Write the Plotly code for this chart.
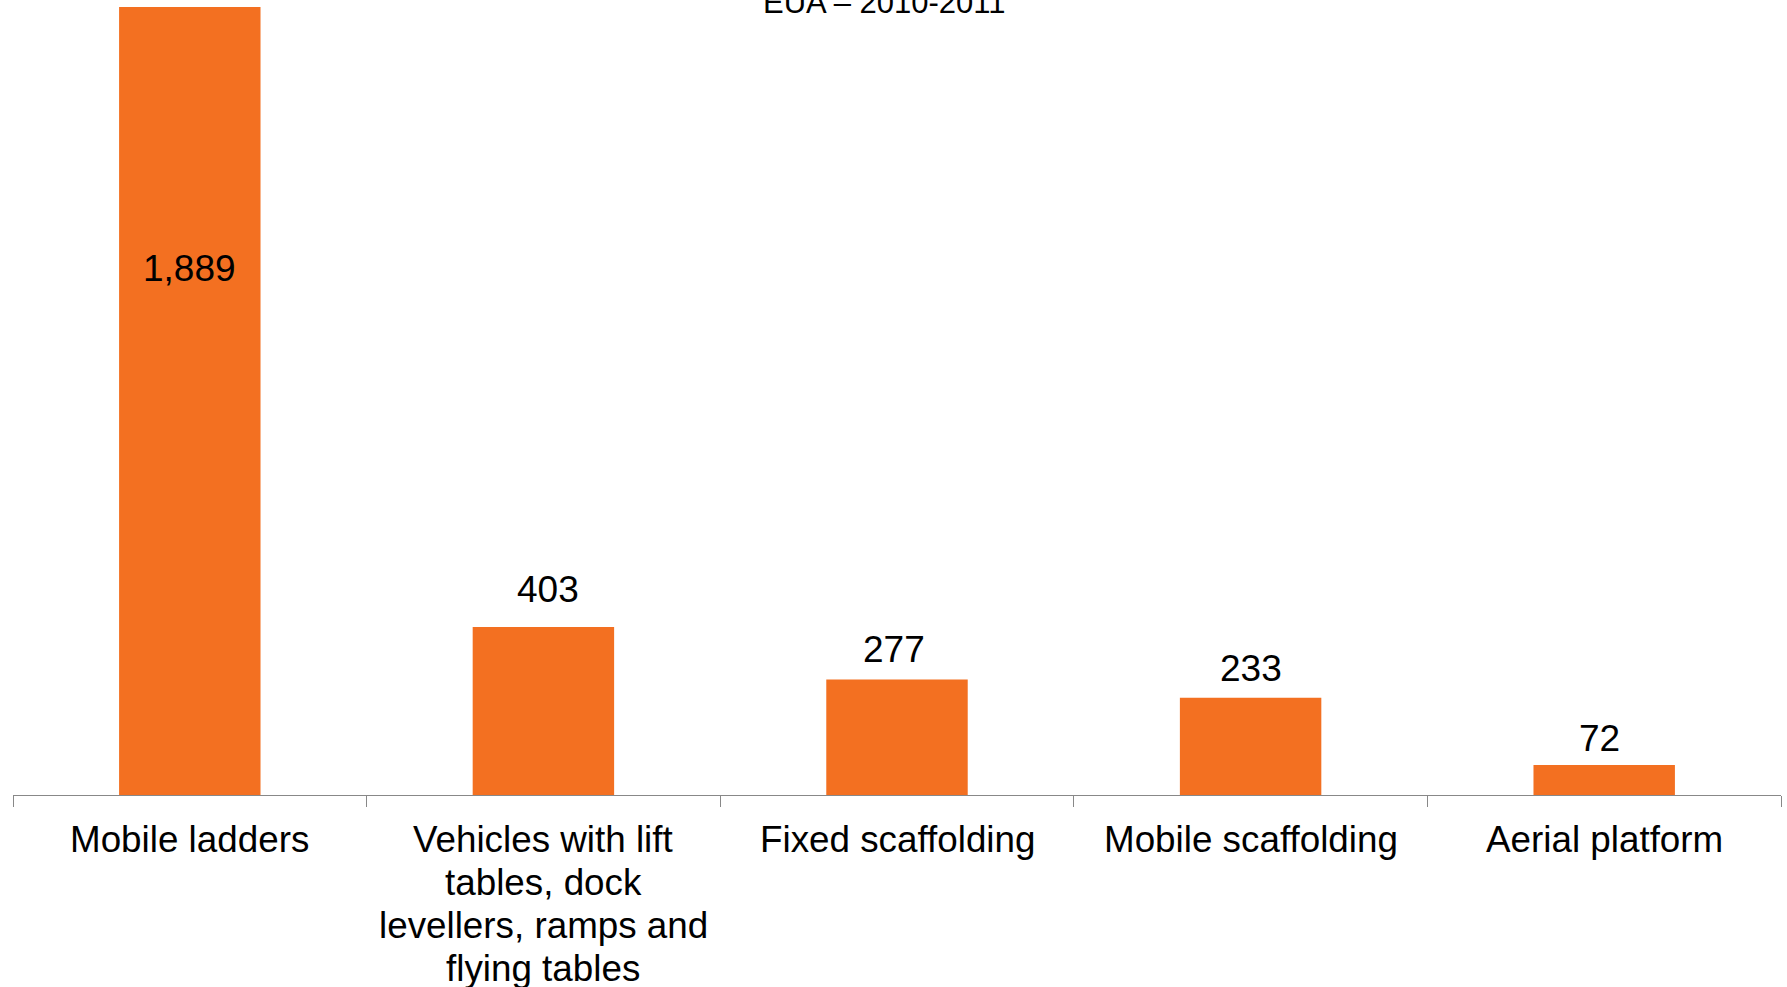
import plotly.graph_objects as go

categories = ["Mobile ladders",
              "Vehicles with lift\ntables, dock\nlevellers, ramps and\nflying tables",
              "Fixed scaffolding",
              "Mobile scaffolding",
              "Aerial platform"]
values = [1889, 403, 277, 233, 72]
value_labels = ["1,889", "403", "277", "233", "72"]
title_text = "EUA – 2010-2011"

# layout-only: pixel offsets of the value labels relative to bar tops
label_shift = [-261, 37, 30, 29, 26]
label_xshift = [0, 5, -3, 0, -5]

FONT = "Liberation Sans, Arial, sans-serif"
ORANGE = "#F37021"

keys = [c.split("\n")[0] for c in categories]

fig = go.Figure(go.Bar(x=keys, y=values, marker_color=ORANGE, marker_line_width=0,
                       width=0.4, hoverinfo="skip"))

ann = []
for k, v, t, s, xs in zip(keys, values, value_labels, label_shift, label_xshift):
    ann.append(dict(x=k, y=v, xref="x", yref="y", text=t, showarrow=False,
                    yanchor="middle", yshift=s, xshift=xs,
                    font=dict(family=FONT, size=37, color="black")))

for k, c in zip(keys, categories):
    for i, line in enumerate(c.split("\n")):
        ann.append(dict(x=k, y=0, xref="x", yref="paper", text=line, showarrow=False,
                        yanchor="middle", yshift=-44 - i * 43.3,
                        font=dict(family=FONT, size=36.8, color="black")))

ann.append(dict(x=(884 - 13) / 1768, y=1, xref="paper", yref="paper", text=title_text,
                showarrow=False, yanchor="middle", yshift=5,
                font=dict(family=FONT, size=31, color="black")))

fig.update_layout(
    width=1787, height=987,
    margin=dict(l=13, r=6, t=7, b=192),
    paper_bgcolor="white", plot_bgcolor="white",
    showlegend=False,
    annotations=ann,
    xaxis=dict(showticklabels=False, ticks="outside", tickson="boundaries", ticklen=11,
               tickcolor="#888888", tickwidth=1.3, showline=True, linecolor="#888888",
               linewidth=1.3, showgrid=False, zeroline=False),
    yaxis=dict(visible=False, range=[0, max(values)], showgrid=False, zeroline=False),
)

fig.write_html("out.html")
